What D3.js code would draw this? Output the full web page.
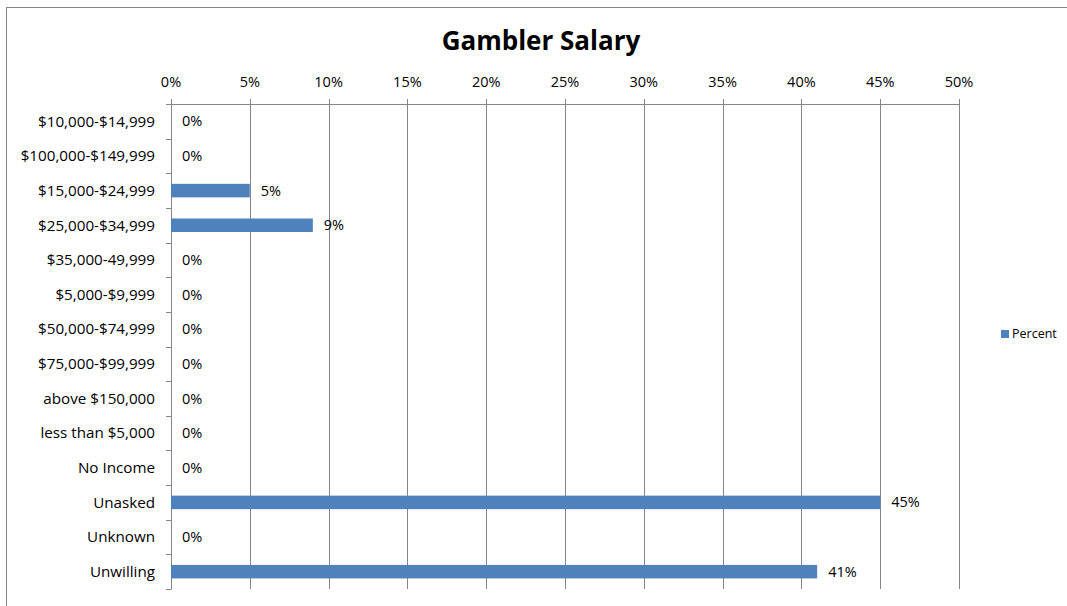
<!DOCTYPE html>
<html>
<head>
<meta charset="utf-8">
<script src="https://cdn.jsdelivr.net/npm/d3@7"></script>
<style>
  body { margin: 0; background: #fff; }
  svg text { font-family: 'Open Sans', 'Noto Sans', sans-serif; fill: #000; }
</style>
</head>
<body>
<svg id="chart" width="1067" height="606"></svg>
<script>
// categories in chart order (top to bottom)
const categories = [
  '$10,000-$14,999', '$100,000-$149,999', '$15,000-$24,999', '$25,000-$34,999',
  '$35,000-49,999', '$5,000-$9,999', '$50,000-$74,999', '$75,000-$99,999',
  'above $150,000', 'less than $5,000', 'No Income', 'Unasked', 'Unknown', 'Unwilling'
];
const percentValues = [0, 0, 0.05, 0.09, 0, 0, 0, 0, 0, 0, 0, 0.45, 0, 0.41];
const xTicks = [0, 0.05, 0.10, 0.15, 0.20, 0.25, 0.30, 0.35, 0.40, 0.45, 0.50];
const seriesName = 'Percent';
const chartTitle = 'Gambler Salary';

const svg = d3.select('#chart');
const margin = {left: 171, top: 104, right: 108, bottom: 17};
const width = 1067 - margin.left - margin.right;   // 788
const height = 606 - margin.top - margin.bottom;   // 485
const gridColor = '#868686';
const barColor = '#4f81bd';
const labelSize = '14.5px';

// outer chart border (runs off the right/bottom edge like the source)
svg.append('rect')
  .attr('x', 6.5).attr('y', 7.5)
  .attr('width', 1070).attr('height', 610)
  .attr('fill', 'none')
  .attr('stroke', gridColor)
  .attr('stroke-width', 1);

svg.append('text')
  .attr('x', 541).attr('y', 50)
  .attr('text-anchor', 'middle')
  .style('font-size', '26px')
  .style('font-weight', 'bold')
  .text(chartTitle);

const sx = d3.scaleLinear().domain([0, 0.5]).range([0, width]);
const sy = d3.scaleBand().domain(categories).range([0, height]).paddingInner(0.61).paddingOuter(0.305);
const band = d3.scaleBand().domain(categories).range([0, height]);

const g = svg.append('g').attr('transform', `translate(${margin.left}, ${margin.top})`);

// vertical gridlines
g.append('g')
  .selectAll('line')
  .data(xTicks)
  .join('line')
  .attr('x1', d => Math.round(sx(d)) + 0.5)
  .attr('x2', d => Math.round(sx(d)) + 0.5)
  .attr('y1', -5)
  .attr('y2', height)
  .attr('stroke', gridColor);

// top axis line
g.append('line')
  .attr('x1', 0).attr('x2', width)
  .attr('y1', 0.5).attr('y2', 0.5)
  .attr('stroke', gridColor);

// top axis labels
g.append('g')
  .selectAll('text')
  .data(xTicks)
  .join('text')
  .attr('x', d => sx(d))
  .attr('y', -17)
  .attr('text-anchor', 'middle')
  .style('font-size', labelSize)
  .text(d3.format('.0%'));

// left axis line and tick marks at band boundaries
g.append('line')
  .attr('x1', 0.5).attr('x2', 0.5)
  .attr('y1', 0).attr('y2', height)
  .attr('stroke', gridColor);

const boundaries = categories.map(c => band(c)).concat([height]);
g.append('g')
  .selectAll('line')
  .data(boundaries)
  .join('line')
  .attr('x1', -5).attr('x2', 0.5)
  .attr('y1', d => Math.round(d) + 0.5)
  .attr('y2', d => Math.round(d) + 0.5)
  .attr('stroke', gridColor);

// category labels
g.append('g')
  .selectAll('text')
  .data(categories)
  .join('text')
  .attr('x', -16)
  .attr('y', d => band(d) + band.bandwidth() / 2)
  .attr('dy', '0.35em')
  .attr('text-anchor', 'end')
  .style('font-size', '15.2px')
  .text(d => d);

// bars
g.append('g')
  .selectAll('rect')
  .data(percentValues)
  .join('rect')
  .attr('x', 0)
  .attr('y', (d, i) => sy(categories[i]))
  .attr('width', d => sx(d))
  .attr('height', sy.bandwidth())
  .attr('fill', barColor);

// value labels
g.append('g')
  .selectAll('text')
  .data(percentValues)
  .join('text')
  .attr('x', d => sx(d) + 11)
  .attr('y', (d, i) => band(categories[i]) + band.bandwidth() / 2)
  .attr('dy', '0.35em')
  .style('font-size', labelSize)
  .text(d3.format('.0%'));

// legend
svg.append('rect')
  .attr('x', 1001).attr('y', 330)
  .attr('width', 8).attr('height', 8)
  .attr('fill', barColor);
svg.append('text')
  .attr('x', 1012).attr('y', 334)
  .attr('dy', '0.35em')
  .style('font-size', '12.5px')
  .text(seriesName);
</script>
</body>
</html>
